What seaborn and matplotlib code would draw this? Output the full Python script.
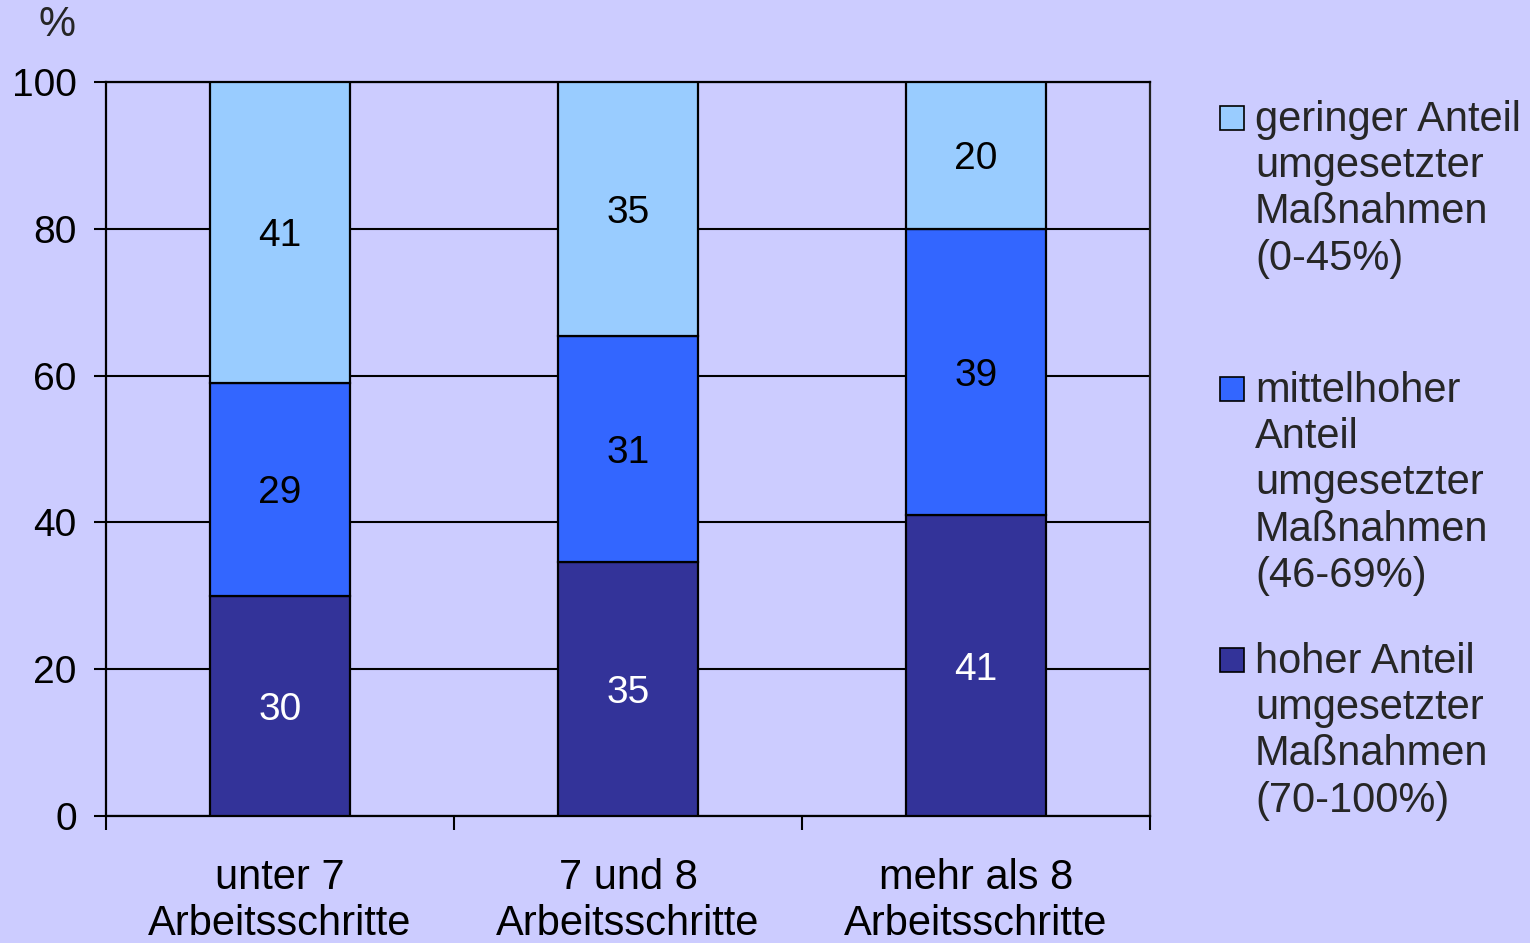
import numpy as np
import pandas as pd
import matplotlib
matplotlib.use("Agg")
import matplotlib.pyplot as plt
from matplotlib.patches import Rectangle
import seaborn as sns

# Data (shares in %, per category of work steps)
categories = ["unter 7\nArbeitsschritte", "7 und 8\nArbeitsschritte", "mehr als 8\nArbeitsschritte"]
hoch = [30, 35, 41]      # hoher Anteil umgesetzter Maßnahmen (70-100%)
mittel = [29, 31, 39]    # mittelhoher Anteil (46-69%)
gering = [41, 35, 20]    # geringer Anteil (0-45%)
legend_labels = [
    "geringer Anteil\numgesetzter\nMaßnahmen\n(0-45%)",
    "mittelhoher\nAnteil\numgesetzter\nMaßnahmen\n(46-69%)",
    "hoher Anteil\numgesetzter\nMaßnahmen\n(70-100%)",
]

BG = "#CCCCFF"
colors = {"hoch": "#333399", "mittel": "#3366FF", "gering": "#99CCFF"}

sns.set_theme(style="white")
plt.rcParams["font.family"] = ["Liberation Sans", "DejaVu Sans"]

# stacked to 100 % (columns rounded to 101 get normalised like in the source)
df = pd.DataFrame({"cat": categories, "hoch": hoch, "mittel": mittel, "gering": gering})
tot = df[["hoch", "mittel", "gering"]].sum(axis=1)
for c in ["hoch", "mittel", "gering"]:
    df[c + "_n"] = df[c] / tot * 100

fig = plt.figure(figsize=(15.3, 9.43), dpi=100, facecolor=BG)
ax = fig.add_axes([106 / 1530, 1 - 816 / 943, (1150 - 106) / 1530, (816 - 82) / 943])
ax.set_facecolor(BG)

bottom = np.zeros(len(df))
for key, tcol in [("hoch", "white"), ("mittel", "black"), ("gering", "black")]:
    sns.barplot(data=df, x="cat", y=key + "_n", bottom=bottom, color=colors[key],
                width=0.4, edgecolor="black", linewidth=1.6, saturation=1, ax=ax, zorder=3)
    for i, (v, h) in enumerate(zip(df[key], df[key + "_n"])):
        ax.text(i, bottom[i] + h / 2, str(v), ha="center", va="center_baseline",
                fontsize=28, color=tcol, zorder=4)
    bottom = bottom + df[key + "_n"].values

ax.set_xlim(-0.5, 2.5)
ax.set_ylim(0, 100)
ax.set_yticks([0, 20, 40, 60, 80, 100])
ax.yaxis.grid(True, color="black", linewidth=1.5, zorder=0)
ax.set_axisbelow(True)
ax.set_xlabel("")
ax.set_ylabel("")

ax.set_xticks([0, 1, 2])
ax.set_xticklabels(categories, fontsize=30, linespacing=1.2)
ax.set_xticks([-0.5, 0.5, 1.5, 2.5], minor=True)
ax.tick_params(axis="x", which="major", length=0, pad=30, colors="black")
ax.tick_params(axis="x", which="minor", bottom=True, length=10, width=1.5, color="black")
ax.tick_params(axis="y", left=True, length=9, width=1.5, pad=12, labelsize=28, colors="black")

for s in ["left", "bottom", "top", "right"]:
    ax.spines[s].set_visible(True)
    ax.spines[s].set_color("black")
    ax.spines[s].set_linewidth(1.6)
ax.spines["right"].set_color("#202020")

fig.text(57 / 1530, 1 - 25 / 943, "%", ha="center", va="center", fontsize=30)

# legend drawn at the right
legend_colors = [colors["gering"], colors["mittel"], colors["hoch"]]
first_line_y = [118, 389, 660]
for lab, col, y in zip(legend_labels, legend_colors, first_line_y):
    fig.patches.append(Rectangle((1220 / 1530, 1 - (y + 12) / 943), 24 / 1530, 24 / 943,
                                 transform=fig.transFigure, facecolor=col,
                                 edgecolor="black", linewidth=1.2))
    fig.text(1255 / 1530, 1 - (y - 18) / 943, lab, ha="left", va="top",
             fontsize=30, linespacing=1.2)

fig.savefig("out.png", dpi=100, facecolor=BG)
